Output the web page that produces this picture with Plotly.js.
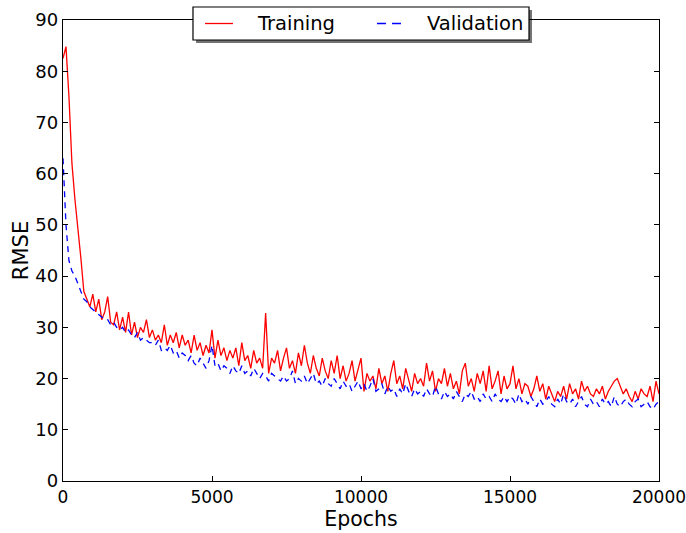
<!DOCTYPE html>
<html>
<head>
<meta charset="utf-8">
<script src="https://cdn.plot.ly/plotly-3.0.1.min.js"></script>
<style>html,body{margin:0;padding:0;background:#fff;}#chart{width:686px;height:533px;}</style>
</head>
<body>
<div id="chart"></div>
<script>
// Epochs sampled every 100
const epochStep = 100;
const trainingRMSE = [
  82.5, 84.8, 75, 62, 55, 49.5, 43.5, 37, 35.5, 34,
  36.5, 33, 35.5, 31.5, 33, 36, 31, 30.5, 33, 29.5,
  32, 29, 33, 28.5, 31, 28, 30, 29, 31.5, 28,
  29.5, 27.5, 28.5, 27, 30.5, 26.5, 28.5, 27, 29, 26,
  28.5, 26.5, 27.5, 25, 28.5, 25.5, 27, 24.5, 26.5, 25,
  29.5, 24, 27.5, 24.5, 26, 23.5, 25.5, 24, 26, 22.5,
  27, 23.5, 24.5, 22, 25.5, 23, 24, 22, 32.8, 21,
  24, 23, 25.5, 21.5, 24, 26, 22, 23.5, 21, 25,
  22.5, 26.5, 23, 21, 24.5, 22, 20.5, 24, 21.5, 20,
  23.5, 21, 24.5, 20, 22.5, 19.5, 21, 23.5, 19.5, 21.5,
  24, 17.5, 21, 19.5, 20.5, 18, 22, 19, 20.5, 17.5,
  21, 23.5, 19, 20.5, 18, 22, 19.5, 17.5, 21, 19,
  20, 18.5, 23, 19.5, 21.5, 17.5, 20, 19, 22, 18.5,
  21, 18, 19.5, 17, 21.5, 23, 18.5, 20, 17.5, 21,
  19, 21.5, 17.5, 22.5, 18, 19.5, 21.5, 17, 20.5, 18,
  19, 22.5, 18, 20, 17, 19, 18.5, 16.5, 18, 20.5,
  17.5, 19, 16, 18.5, 17, 15.5, 17.5, 16.5, 18.5, 16,
  19, 17, 18, 16, 19.5, 17.5, 18.5, 17, 16.5, 18,
  17, 18.5, 16, 17.5, 18.5, 19.5, 20, 18.5, 17, 18,
  16.5, 15.5, 17.5, 16, 18, 17, 16.5, 18.5, 15.5, 19.5,
  17
];
const validationRMSE = [
  63, 50, 43, 41, 40, 38.5, 37, 35.5, 35, 34,
  33.5, 33, 32.5, 32, 31.5, 31.5, 30.5, 31, 30, 29.5,
  30, 29, 29.5, 28.5, 28, 29, 27.5, 28, 27.5, 27,
  27, 26.5, 27.5, 25.5, 26, 25.5, 26.5, 25, 25.5, 24,
  25, 24.5, 23.5, 24.5, 23, 22.5, 24, 23, 22, 23.5,
  26.5, 22.5, 23, 21.5, 22.5, 22, 21, 22.5, 21.5, 21,
  22.5, 21, 21.5, 20.5, 22, 21, 20, 21, 20.5, 19.5,
  21, 20.5, 20, 19.5, 20.5, 19.5, 20, 21.5, 19, 20,
  19.5, 20.5, 19, 20, 21, 19, 19.5, 18.5, 20, 19,
  18.5, 20, 19, 18, 19.5, 18.5, 19, 17.5, 18.5, 19.5,
  18, 19, 17.5, 18.5, 20, 17.5, 18, 19, 17, 18.5,
  17.5, 18, 16.5, 18, 17, 19, 17.5, 16.5, 18, 17,
  17.5, 16.5, 18, 17, 16.5, 18.5, 17, 16, 17.5, 16.5,
  17, 16, 17.5, 16.5, 15.5, 17, 16.5, 17.5, 16, 16.5,
  15.5, 17, 16, 16.5, 15.5, 17, 16, 15.5, 16.5, 15.5,
  16.5, 16, 15, 17, 15.5, 16, 15, 16.5, 15.5, 14.5,
  16, 15, 15.5, 16.5, 15, 14.5, 16, 15, 17, 15.5,
  15, 16, 14.5, 15.5, 16.5, 15, 14.5, 16, 15, 15.5,
  14.5, 16, 15, 15.5, 14.5, 16.5, 15, 14.5, 15.5, 16,
  15, 14.5, 15.5, 16, 14.5, 15, 15.5, 14.5, 14, 15,
  15.5
];
const seriesNames = ["Training", "Validation"];
const xTicks = [0, 5000, 10000, 15000, 20000];
const yTicks = [0, 10, 20, 30, 40, 50, 60, 70, 80, 90];

const epochs = trainingRMSE.map((_, i) => i * epochStep);
const font = "DejaVu Sans, sans-serif";

const traces = [
  {x: epochs, y: trainingRMSE, name: seriesNames[0], type: "scatter", mode: "lines",
   line: {color: "#ff0000", width: 1.3}},
  {x: epochs, y: validationRMSE, name: seriesNames[1], type: "scatter", mode: "lines",
   line: {color: "#0000ff", width: 1.3, dash: "6px,5px"}}
];

const axisCommon = {
  showgrid: false, zeroline: false, showline: true, linecolor: "#000", linewidth: 1.2,
  mirror: "ticks", ticks: "inside", ticklen: 5, tickwidth: 1, tickcolor: "#000",
  ticklabeloverflow: "allow"
};

const layout = {
  width: 686, height: 533,
  margin: {l: 63, r: 27, t: 20, b: 52},
  paper_bgcolor: "#fff", plot_bgcolor: "#fff",
  showlegend: false,
  font: {family: font, color: "#000"},
  xaxis: Object.assign({}, axisCommon, {
    range: [0, 20000], tickvals: xTicks, ticktext: xTicks.map(String),
    tickfont: {family: font, size: 17, color: "#000"},
    title: {text: "Epochs", font: {family: font, size: 20.5, color: "#000"}, standoff: 4}
  }),
  yaxis: Object.assign({}, axisCommon, {
    range: [0, 90], tickvals: yTicks, ticktext: yTicks.map(String),
    tickfont: {family: font, size: 18, color: "#000"},
    title: {text: "RMSE", font: {family: font, size: 21, color: "#000"}, standoff: 1}
  }),
  shapes: [
    {type: "rect", xref: "paper", yref: "paper", layer: "above",
     x0: 0.2232, x1: 0.7869, y0: 0.9501, y1: 1.0217,
     fillcolor: "rgba(0,0,0,0.55)", line: {width: 0}},
    {type: "rect", xref: "paper", yref: "paper", layer: "above",
     x0: 0.2181, x1: 0.7819, y0: 0.9566, y1: 1.0282,
     fillcolor: "#fff", line: {color: "#000", width: 1.2}},
    {type: "line", xref: "paper", yref: "paper", layer: "above",
     x0: 0.2383, x1: 0.2852, y0: 0.9924, y1: 0.9924,
     line: {color: "#ff0000", width: 1.3}},
    {type: "line", xref: "paper", yref: "paper", layer: "above",
     x0: 0.5268, x1: 0.5705, y0: 0.9924, y1: 0.9924,
     line: {color: "#0000ff", width: 1.3, dash: "9px,6px"}}
  ],
  annotations: [
    {xref: "paper", yref: "paper", x: 0.3221, y: 0.9924, xanchor: "left", yanchor: "middle",
     text: seriesNames[0], showarrow: false, font: {family: font, size: 19.5, color: "#000"}},
    {xref: "paper", yref: "paper", x: 0.6074, y: 0.9924, xanchor: "left", yanchor: "middle",
     text: seriesNames[1], showarrow: false, font: {family: font, size: 19.5, color: "#000"}}
  ]
};

Plotly.newPlot("chart", traces, layout, {staticPlot: true, displayModeBar: false});
</script>
</body>
</html>
